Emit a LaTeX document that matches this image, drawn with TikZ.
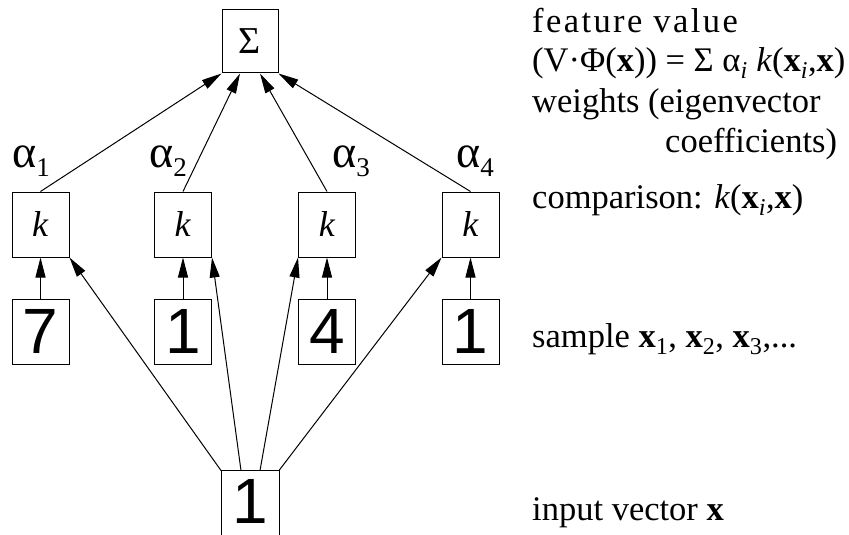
\documentclass[tikz,border=0pt]{standalone}
\usepackage{fontspec}
\setmainfont{Liberation Serif}
\newfontfamily\digitfont{Liberation Sans}
\usetikzlibrary{arrows.meta}
\newcommand\alphasub[1]{{\fontsize{46}{46}\selectfont α}\raisebox{-9pt}{\fontsize{27}{27}\selectfont #1}}
\begin{document}
\begin{tikzpicture}[x=1pt,y=-1pt,
  box/.style={draw, line width=1pt, minimum width=57pt, minimum height=65pt, inner sep=0pt, font=\fontsize{36}{40}\selectfont},
  dig/.style={box, font=\digitfont\fontsize{64}{64}\selectfont},
  arr/.style={line width=1pt, -{Triangle[length=20pt,width=10pt]}},
  lab/.style={anchor=base west, inner sep=0pt, font=\fontsize{34.5}{40}\selectfont},
  alab/.style={anchor=base west, inner sep=0pt}]
\useasboundingbox (0,0) rectangle (849,535);
% nodes
\node[box, minimum width=56pt, minimum height=63pt, font=\fontsize{38}{42}\selectfont] (sig) at (250,41.5) {Σ};
\node[box] (k1) at (40.5,224.5) {\textit{k}};
\node[box] (k2) at (183,224.5) {\textit{k}};
\node[box] (k3) at (327,224.5) {\textit{k}};
\node[box] (k4) at (470.5,224.5) {\textit{k}};
\node[dig] (s1) at (40.5,331.5) {7};
\node[dig] (s2) at (183,331.5) {1};
\node[dig] (s3) at (327,331.5) {4};
\node[dig] (s4) at (470.5,331.5) {1};
\node[dig, draw=none, minimum height=60pt] (in) at (250,501) {1};
\draw[line width=1pt] ([yshift=-6pt]in.south west) -- (in.north west) -- (in.north east) -- ([yshift=-6pt]in.south east);
% weight labels
\node[alab] (a1) at (12,167) {\alphasub{1}};
\node[alab] (a2) at (149,167) {\alphasub{2}};
\node[alab] (a3) at (332,167) {\alphasub{3}};
\node[alab] (a4) at (456,167) {\alphasub{4}};
% arrows to sum
\draw[arr] (k1.north) -- (sig.south west);
\draw[arr] (k2.north) -- ([xshift=-10pt]sig.south);
\draw[arr] (k3.north) -- ([xshift=10pt]sig.south);
\draw[arr] (k4.north) -- (sig.south east);
% sample arrows
\draw[arr] (s1.north) -- (k1.south);
\draw[arr] (s2.north) -- (k2.south);
\draw[arr] (s3.north) -- (k3.south);
\draw[arr] (s4.north) -- (k4.south);
% input arrows
\draw[arr] (in.north west) -- (k1.south east);
\draw[arr] ([xshift=-9pt]in.north) -- (k2.south east);
\draw[arr] ([xshift=10pt]in.north) -- (k3.south west);
\draw[arr] (in.north east) -- (k4.south west);
% right-hand descriptions
\node[lab] (t1) at (532,33) {\addfontfeature{LetterSpace=7}feature value};
\node[lab] (t2) at (532,71) {(V·Φ(\textbf{x})) = Σ α\textsubscript{\textit{i}} \textit{k}(\textbf{x}\textsubscript{\textit{i}},\textbf{x})};
\node[lab] (t3) at (532,113) {weights (eigenvector};
\node[lab] (t4) at (665,152) {coefficients)};
\node[lab] (t5) at (532,208) {comparison: \textit{k}(\textbf{x}\textsubscript{\textit{i}},\textbf{x})};
\node[lab] (t6) at (532,347) {sample \textbf{x}\textsubscript{1}, \textbf{x}\textsubscript{2}, \textbf{x}\textsubscript{3},...};
\node[lab] (t7) at (532,520) {input vector \textbf{x}};
\end{tikzpicture}
\end{document}
